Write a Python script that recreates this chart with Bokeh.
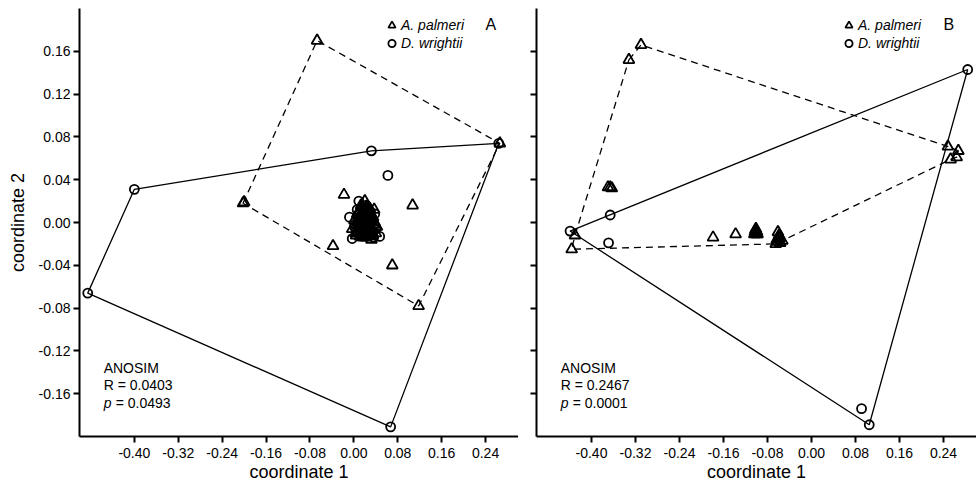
from bokeh.plotting import figure
from bokeh.layouts import row
from bokeh.models import FixedTicker, PrintfTickFormatter, Range1d, Legend, LegendItem, Label
from bokeh.embed import file_html
from bokeh.resources import INLINE

# ---------------- data ----------------
x_ticks = [-0.40, -0.32, -0.24, -0.16, -0.08, 0.00, 0.08, 0.16, 0.24]
y_ticks = [-0.16, -0.12, -0.08, -0.04, 0.00, 0.04, 0.08, 0.12, 0.16]

# Panel A
palmeri_A_x = [-0.067, -0.202, -0.200, 0.266, 0.118, -0.018, 0.107, -0.038, 0.070,
               0.020, 0.037, 0.032, -0.003, 0.010, 0.015, 0.025, 0.028, 0.005, 0.012,
               0.018, 0.030, 0.035, 0.040, 0.022, 0.008, 0.014, 0.026, 0.033, 0.017,
               0.003, 0.024, 0.038, 0.011, 0.029, 0.019, 0.006, 0.034, 0.042, 0.001,
               0.013, 0.021, 0.027, 0.031, 0.016, 0.009, 0.036, 0.023, 0.004,
               0.018, 0.022, 0.026, 0.012, 0.016, 0.020, 0.024, 0.028, 0.032, 0.014,
               0.019, 0.023, 0.027, 0.010, 0.015, 0.021, 0.025, 0.030, 0.007, 0.013,
               0.017, 0.029, 0.034, 0.020, 0.024, 0.011, 0.018, 0.026, 0.031, 0.015]
palmeri_A_y = [0.170, 0.018, 0.019, 0.074, -0.078, 0.026, 0.016, -0.022, -0.040,
               0.020, 0.012, -0.016, -0.006, 0.010, 0.014, 0.008, 0.002, -0.002, -0.008,
               -0.012, -0.004, 0.005, -0.010, -0.014, 0.004, 0.000, 0.012, -0.008, 0.006,
               -0.010, -0.006, 0.000, -0.013, 0.010, -0.002, 0.008, -0.012, -0.004, 0.002,
               0.016, 0.004, -0.010, 0.006, -0.006, -0.004, -0.002, 0.011, -0.012,
               0.001, -0.001, 0.003, 0.006, -0.003, 0.008, -0.008, 0.005, 0.002, -0.009,
               0.012, 0.015, -0.005, -0.001, 0.010, -0.011, 0.000, -0.013, 0.007, -0.006,
               -0.014, 0.013, -0.007, 0.004, -0.003, 0.003, 0.009, -0.012, 0.001, -0.011]
wrightii_A_x = [-0.485, -0.400, 0.032, 0.264, 0.062, 0.067, 0.009, -0.008, -0.003,
                0.047, 0.016, 0.030, 0.004, 0.024, 0.040, 0.012, 0.036, 0.020,
                0.006, 0.027, 0.018, 0.033, 0.011, 0.022, 0.038, 0.001]
wrightii_A_y = [-0.066, 0.031, 0.067, 0.074, 0.044, -0.191, 0.020, 0.005, -0.015,
                -0.013, -0.004, 0.010, -0.008, 0.014, -0.006, 0.002, -0.014, -0.010,
                0.012, -0.002, 0.006, 0.004, -0.012, 0.016, 0.008, -0.004]
hull_palmeri_A_x = [-0.202, -0.067, 0.266, 0.118]
hull_palmeri_A_y = [0.018, 0.170, 0.074, -0.078]
hull_wrightii_A_x = [-0.485, -0.400, 0.032, 0.264, 0.067]
hull_wrightii_A_y = [-0.066, 0.031, 0.067, 0.074, -0.191]

# Panel B
palmeri_B_x = [-0.310, -0.332, -0.370, -0.366, -0.363, -0.430, -0.436, -0.179, -0.138,
               -0.103, -0.101, -0.099, -0.102, -0.100, -0.104, -0.098, -0.101, -0.100,
               -0.061, -0.059, -0.065, -0.063, -0.053, -0.057, -0.060, -0.062, -0.058,
               0.248, 0.267, 0.253, 0.264]
palmeri_B_y = [0.166, 0.152, 0.033, 0.033, 0.032, -0.012, -0.025, -0.014, -0.011,
               -0.009, -0.010, -0.009, -0.007, -0.011, -0.011, -0.011, -0.006, -0.008,
               -0.009, -0.012, -0.020, -0.016, -0.017, -0.019, -0.014, -0.018, -0.015,
               0.071, 0.067, 0.059, 0.061]
wrightii_B_x = [-0.439, -0.366, -0.369, 0.284, 0.091, 0.105]
wrightii_B_y = [-0.008, 0.007, -0.019, 0.143, -0.174, -0.189]
hull_palmeri_B_x = [-0.332, -0.310, 0.248, 0.267, 0.264, 0.253, -0.053, -0.065, -0.436, -0.430]
hull_palmeri_B_y = [0.152, 0.166, 0.071, 0.067, 0.061, 0.059, -0.017, -0.020, -0.025, -0.012]
hull_wrightii_B_x = [-0.439, 0.284, 0.105]
hull_wrightii_B_y = [-0.008, 0.143, -0.189]

stats_A = ["ANOSIM", "R = 0.0403", "= 0.0493"]
stats_B = ["ANOSIM", "R = 0.2467", "= 0.0001"]

FONT = "Liberation Sans"


def style_axis(ax):
    ax.axis_line_width = 2
    ax.axis_line_color = "black"
    ax.major_tick_line_width = 2
    ax.major_tick_line_color = "black"
    ax.major_tick_out = 6
    ax.major_tick_in = 0
    ax.minor_tick_line_color = None
    ax.major_label_text_font = FONT
    ax.major_label_text_font_size = "14px"
    ax.major_label_text_color = "black"
    ax.major_label_standoff = 3
    ax.axis_label_text_font = FONT
    ax.axis_label_text_font_size = "18px"
    ax.axis_label_text_font_style = "normal"
    ax.axis_label_text_color = "black"
    ax.formatter = PrintfTickFormatter(format="%.2f")


def make_panel(tag, px, py, wx, wy, hpx, hpy, hwx, hwy, stats, show_ylabels, width, left):
    p = figure(width=width, height=484, output_backend="svg", toolbar_location=None,
               x_range=Range1d(-0.5, 0.3), y_range=Range1d(-0.2, 0.2),
               min_border_left=left, min_border_right=0, min_border_top=8,
               min_border_bottom=46)
    p.outline_line_color = None
    p.grid.visible = False
    p.background_fill_color = "white"
    p.border_fill_color = "white"

    p.patch(hwx, hwy, fill_color=None, line_color="black", line_width=1.3)
    p.patch(hpx, hpy, fill_color=None, line_color="black", line_width=1.3, line_dash="7 5")

    tri = p.scatter(px, py, marker="triangle", size=11, fill_color=None,
                    line_color="black", line_width=1.8)
    cir = p.scatter(wx, wy, marker="circle", size=9, fill_color=None,
                    line_color="black", line_width=1.8)

    style_axis(p.xaxis[0])
    style_axis(p.yaxis[0])
    p.xaxis.ticker = FixedTicker(ticks=x_ticks)
    p.xaxis.axis_label = "coordinate 1"
    p.xaxis.major_label_standoff = 5
    p.xaxis.axis_label_standoff = 1
    if show_ylabels:
        p.yaxis.ticker = FixedTicker(ticks=y_ticks)
        p.yaxis.axis_label = "coordinate 2"
        p.yaxis.axis_label_standoff = 8
    else:
        # ticks without labels: use minor ticks only
        p.yaxis.ticker = FixedTicker(ticks=[], minor_ticks=y_ticks)
        p.yaxis.minor_tick_line_color = "black"
        p.yaxis.minor_tick_line_width = 2
        p.yaxis.minor_tick_out = 6
        p.yaxis.minor_tick_in = 0

    legend = Legend(items=[LegendItem(label="A. palmeri", renderers=[tri]),
                           LegendItem(label="D. wrightii", renderers=[cir])],
                    location=(303, 384), padding=0, margin=0, spacing=0,
                    glyph_width=19, glyph_height=18, label_height=18,
                    label_standoff=0, border_line_color=None,
                    background_fill_alpha=0,
                    label_text_font=FONT, label_text_font_size="14px",
                    label_text_font_style="italic", label_text_color="black")
    p.add_layout(legend)

    p.add_layout(Label(x=0.240, y=0.185, text=tag, text_font=FONT,
                       text_font_size="16px", text_baseline="middle", text_color="black"))

    p.add_layout(Label(x=-0.456, y=-0.136, text=stats[0], text_font=FONT,
                       text_font_size="14px", text_baseline="middle", text_color="black"))
    p.add_layout(Label(x=-0.456, y=-0.152, text=stats[1], text_font=FONT,
                       text_font_size="14px", text_baseline="middle", text_color="black"))
    p.add_layout(Label(x=-0.456, y=-0.169, text="p", text_font=FONT,
                       text_font_size="14px", text_font_style="italic",
                       text_baseline="middle", text_color="black"))
    p.add_layout(Label(x=-0.456, y=-0.169, x_offset=12, text=stats[2], text_font=FONT,
                       text_font_size="14px", text_baseline="middle", text_color="black"))
    return p


pA = make_panel("A", palmeri_A_x, palmeri_A_y, wrightii_A_x, wrightii_A_y,
                hull_palmeri_A_x, hull_palmeri_A_y, hull_wrightii_A_x, hull_wrightii_A_y,
                stats_A, True, 518, 79)
pB = make_panel("B", palmeri_B_x, palmeri_B_y, wrightii_B_x, wrightii_B_y,
                hull_palmeri_B_x, hull_palmeri_B_y, hull_wrightii_B_x, hull_wrightii_B_y,
                stats_B, False, 458, 18)

layout = row(pA, pB)
open("out.html", "w").write(file_html(layout, INLINE))
